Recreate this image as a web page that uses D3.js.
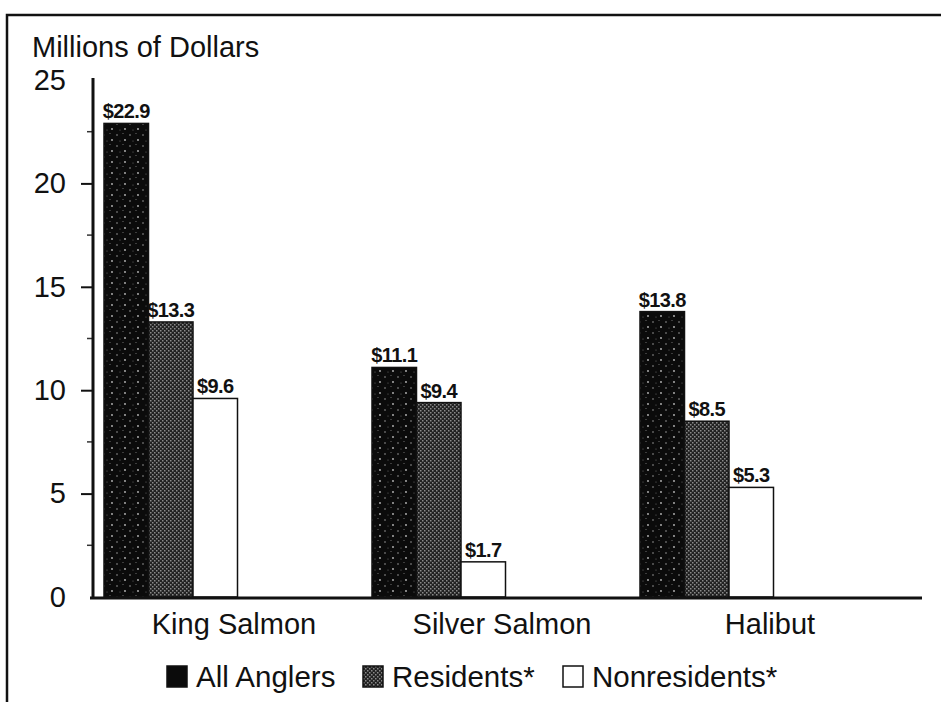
<!DOCTYPE html>
<html>
<head>
<meta charset="utf-8">
<script src="https://cdn.jsdelivr.net/npm/d3@7"></script>
<style>
  body { margin: 0; background: #fff; }
  text { font-family: "Liberation Sans", Arial, sans-serif; fill: #111; }
</style>
</head>
<body>
<div id="app"></div>
<script>
// data
var categories = ['King Salmon', 'Silver Salmon', 'Halibut']
var seriesNames = ['All Anglers', 'Residents*', 'Nonresidents*']
var allAnglers = [22.9, 11.1, 13.8]
var residents = [13.3, 9.4, 8.5]
var nonresidents = [9.6, 1.7, 5.3]
var yTicks = [0, 5, 10, 15, 20, 25]
var yMinorTicks = [2.5, 7.5, 12.5, 17.5, 22.5]

var series = [allAnglers, residents, nonresidents]

var width = 941, height = 702

var svg = d3.select('#app')
  .append('svg')
  .attr('width', width)
  .attr('height', height)

// patterns for the bar fills
var defs = svg.append('defs')

var pBlack = defs.append('pattern')
  .attr('id', 'speckle')
  .attr('patternUnits', 'userSpaceOnUse')
  .attr('width', 13).attr('height', 11)
pBlack.append('rect').attr('width', 13).attr('height', 11).attr('fill', '#0b0b0b')
pBlack.append('circle').attr('cx', 2).attr('cy', 3).attr('r', 0.8).attr('fill', '#9a9a9a')
pBlack.append('circle').attr('cx', 8).attr('cy', 1.5).attr('r', 0.6).attr('fill', '#777')
pBlack.append('circle').attr('cx', 10).attr('cy', 8).attr('r', 0.9).attr('fill', '#bbb')
pBlack.append('circle').attr('cx', 5).attr('cy', 9).attr('r', 0.6).attr('fill', '#666')

var pGrey = defs.append('pattern')
  .attr('id', 'stipple')
  .attr('patternUnits', 'userSpaceOnUse')
  .attr('width', 4).attr('height', 4)
pGrey.append('rect').attr('width', 4).attr('height', 4).attr('fill', '#222')
pGrey.append('rect').attr('x', 0).attr('y', 0).attr('width', 1.5).attr('height', 1.5).attr('fill', '#8a8a8a')
pGrey.append('rect').attr('x', 2).attr('y', 2).attr('width', 1.5).attr('height', 1.5).attr('fill', '#8a8a8a')

var fills = ['url(#speckle)', 'url(#stipple)', '#fff']

// frame (top and left only)
svg.append('path')
  .attr('d', 'M7,702 V15 H941')
  .attr('fill', 'none')
  .attr('stroke', '#111')
  .attr('stroke-width', 2.5)

var y = d3.scaleLinear().domain([0, 25]).range([597, 80])

var x = d3.scaleBand()
  .domain(categories)
  .range([102, 906])
  .padding(0)

var barW = 44.5

// y axis
var yAxis = d3.axisLeft(y)
  .tickValues(yTicks)
  .tickSize(12)
  .tickPadding(15)
  .tickFormat(d3.format('d'))

var gy = svg.append('g')
  .attr('transform', 'translate(93,0)')
  .call(yAxis)
gy.select('.domain').remove()
gy.selectAll('.tick line').attr('stroke', '#111').attr('stroke-width', 2)
gy.selectAll('.tick text')
  .attr('font-size', 29)
  .attr('font-family', '"Liberation Sans", Arial, sans-serif')
  .attr('fill', '#111')
gy.selectAll('.tick')
  .filter(function (d) { return d === 0 || d === 25 })
  .select('line').remove()

gy.selectAll('.minor')
  .data(yMinorTicks)
  .enter()
  .append('line')
  .attr('class', 'minor')
  .attr('x1', -6).attr('x2', 0)
  .attr('y1', function (d) { return y(d) })
  .attr('y2', function (d) { return y(d) })
  .attr('stroke', '#333')
  .attr('stroke-width', 1.5)

svg.append('line')
  .attr('x1', 93).attr('x2', 93)
  .attr('y1', 78).attr('y2', 599)
  .attr('stroke', '#111').attr('stroke-width', 3)

svg.append('text')
  .attr('x', 32).attr('y', 57)
  .attr('font-size', 29)
  .text('Millions of Dollars')

// bars
var groups = svg.selectAll('.group')
  .data(categories)
  .enter()
  .append('g')
  .attr('class', 'group')
  .attr('transform', function (d) { return 'translate(' + x(d) + ',0)' })

groups.each(function (cat, ci) {
  var g = d3.select(this)
  series.forEach(function (vals, si) {
    var v = vals[ci]
    g.append('rect')
      .attr('x', 2 + si * barW)
      .attr('y', y(v))
      .attr('width', barW)
      .attr('height', y(0) - y(v))
      .attr('fill', fills[si])
      .attr('stroke', '#111')
      .attr('stroke-width', 1.5)
    g.append('text')
      .attr('x', 2 + si * barW + barW / 2)
      .attr('y', y(v) - 5)
      .attr('text-anchor', 'middle')
      .attr('font-size', 20)
      .attr('font-weight', 'bold')
      .attr('letter-spacing', -0.6)
      .text('$' + v.toFixed(1))
  })
})

// baseline
svg.append('line')
  .attr('x1', 90).attr('x2', 922)
  .attr('y1', 598).attr('y2', 598)
  .attr('stroke', '#111').attr('stroke-width', 3)

// category labels
svg.selectAll('.cat')
  .data(categories)
  .enter()
  .append('text')
  .attr('class', 'cat')
  .attr('x', function (d) { return x(d) + x.bandwidth() / 2 - 2 })
  .attr('y', 634)
  .attr('text-anchor', 'middle')
  .attr('font-size', 29)
  .text(function (d) { return d })

// legend
var legendX = [167, 363, 563]
var leg = svg.selectAll('.leg')
  .data(seriesNames)
  .enter()
  .append('g')
  .attr('class', 'leg')
  .attr('transform', function (d, i) { return 'translate(' + legendX[i] + ',666)' })

leg.append('rect')
  .attr('width', 20).attr('height', 21)
  .attr('fill', function (d, i) { return i === 0 ? '#0b0b0b' : fills[i] })
  .attr('stroke', '#111')
  .attr('stroke-width', 1.5)

leg.append('text')
  .attr('x', 29).attr('y', 21)
  .attr('font-size', 29.5)
  .text(function (d) { return d })
</script>
</body>
</html>
